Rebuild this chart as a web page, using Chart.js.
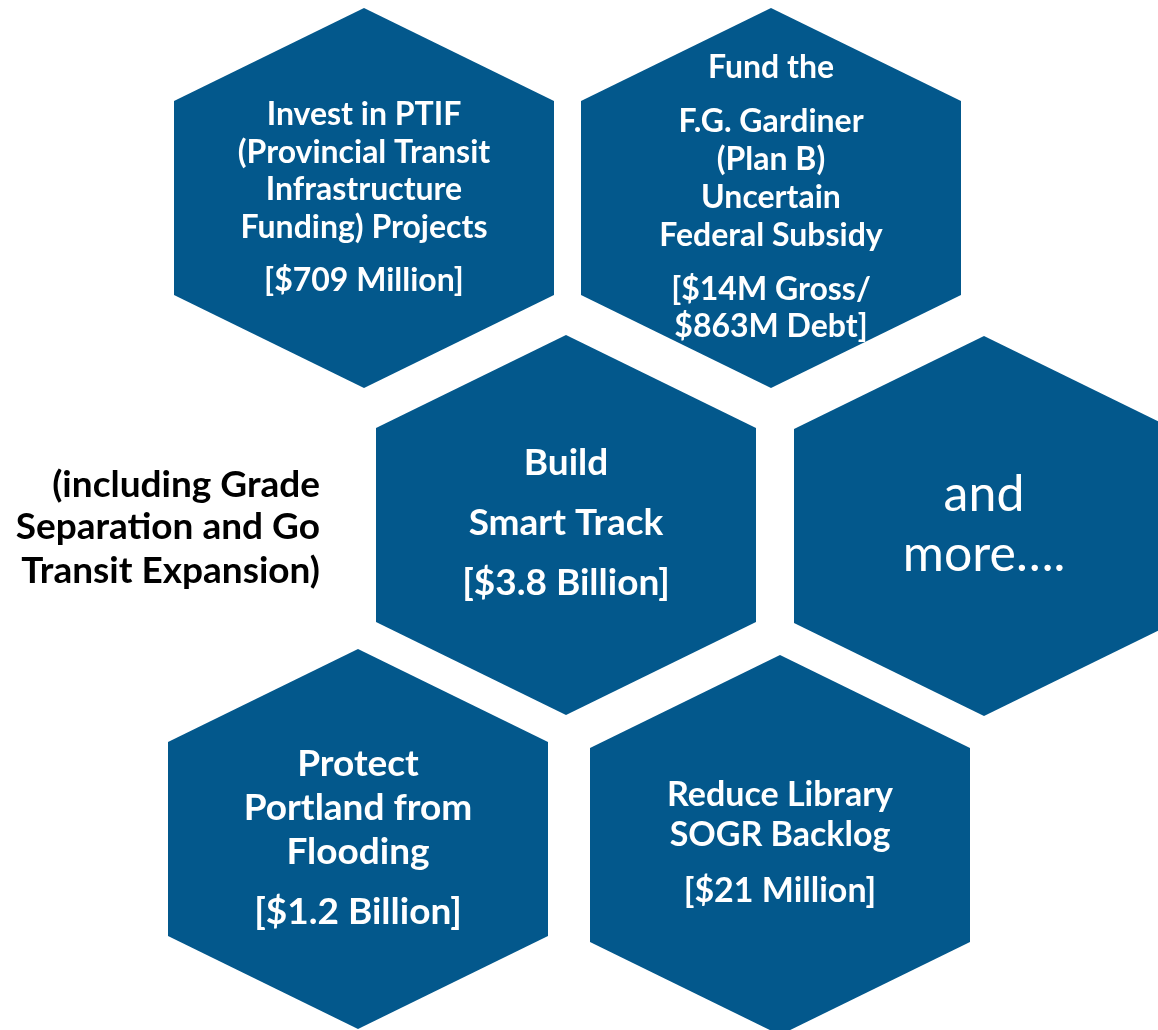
<!DOCTYPE html>
<html>
<head>
<meta charset="utf-8">
<script src="https://cdn.jsdelivr.net/npm/chart.js@4.4.0/dist/chart.umd.min.js"></script>
<style>
  html, body { margin: 0; padding: 0; background: #fff; }
  #wrap { width: 1158px; height: 1030px; position: relative; }
</style>
</head>
<body>
<div id="wrap"><canvas id="hexChart"></canvas></div>
<script>
// hexagon centres (chart units: x 0..1158, y 0..1030 top-down)
const hexX = [364, 771, 566, 984, 358, 780];
const hexY = [198, 198, 525, 526, 839, 845];

// text inside each hexagon
const hexText = [
    ['Invest in PTIF', '(Provincial Transit', 'Infrastructure', 'Funding) Projects', '[$709 Million]'],
    ['Fund the', 'F.G. Gardiner', '(Plan B)', 'Uncertain', 'Federal Subsidy', '[$14M Gross/', '$863M Debt]'],
    ['Build', 'Smart Track', '[$3.8 Billion]'],
    ['and', 'more….'],
    ['Protect', 'Portland from', 'Flooding', '[$1.2 Billion]'],
    ['Reduce Library', 'SOGR Backlog', '[$21 Million]']
];

const sideNote = ['(including Grade', 'Separation and Go', 'Transit Expansion)'];

// layout / style (not data)
const HEX_W = 190, HEX_H = 190, HEX_S = 97;
const HEX_COLOR = '#03588c';
const FONT = 'Lato, "Open Sans", sans-serif';
const textStyle = [
    { size: 32, bold: true,  dy: [-83, -45, -8, 30, 83] },
    { size: 32, bold: true,  dy: [-130, -76, -38, 0, 38, 92, 129] },
    { size: 37, bold: true,  dy: [-62, -2, 58] },
    { size: 50, bold: false, dy: [-31, 29] },
    { size: 37, bold: true,  dy: [-75, -31, 13, 73] },
    { size: 34, bold: true,  dy: [-50, -10, 46] }
];
const noteStyle = { x: 320, y: [485, 527, 571], size: 37 };

const hexPlugin = {
    id: 'hexPlugin',
    afterDatasetsDraw(chart) {
        const ctx = chart.ctx;
        const xs = chart.scales.x, ys = chart.scales.y;
        const meta = chart.getDatasetMeta(0);
        meta.data.forEach(function (pt, i) {
            const cx = pt.x, cy = pt.y;
            const w = xs.getPixelForValue(hexX[i] + HEX_W) - cx;
            const h = ys.getPixelForValue(hexY[i] + HEX_H) - cy;
            const s = ys.getPixelForValue(hexY[i] + HEX_S) - cy;
            ctx.save();
            ctx.beginPath();
            ctx.moveTo(cx, cy - h);
            ctx.lineTo(cx + w, cy - s);
            ctx.lineTo(cx + w, cy + s);
            ctx.lineTo(cx, cy + h);
            ctx.lineTo(cx - w, cy + s);
            ctx.lineTo(cx - w, cy - s);
            ctx.closePath();
            ctx.fillStyle = HEX_COLOR;
            ctx.fill();

            // etiquetas
            const st = textStyle[i];
            ctx.fillStyle = '#fff';
            ctx.textAlign = 'center';
            ctx.textBaseline = 'middle';
            ctx.font = (st.bold ? 'bold ' : '') + st.size + 'px ' + FONT;
            hexText[i].forEach(function (line, j) {
                ctx.fillText(line, cx, cy + st.dy[j]);
            });
            ctx.restore();
        });

        // nota lateral
        ctx.save();
        ctx.fillStyle = '#000';
        ctx.textAlign = 'right';
        ctx.textBaseline = 'middle';
        ctx.font = 'bold ' + noteStyle.size + 'px ' + FONT;
        sideNote.forEach(function (line, j) {
            ctx.fillText(line, xs.getPixelForValue(noteStyle.x), ys.getPixelForValue(noteStyle.y[j]));
        });
        ctx.restore();
    }
};

new Chart(document.getElementById('hexChart'), {
    type: 'scatter',
    data: {
        datasets: [{
            data: hexX.map(function (x, i) { return { x: x, y: hexY[i] }; }),
            pointRadius: 0,
            pointHoverRadius: 0
        }]
    },
    options: {
        responsive: true,
        maintainAspectRatio: false,
        animation: false,
        layout: { padding: 0 },
        plugins: { legend: { display: false }, tooltip: { enabled: false } },
        scales: {
            x: { type: 'linear', min: 0, max: 1158, display: false },
            y: { type: 'linear', min: 0, max: 1030, reverse: true, display: false }
        }
    },
    plugins: [hexPlugin]
});
</script>
</body>
</html>
